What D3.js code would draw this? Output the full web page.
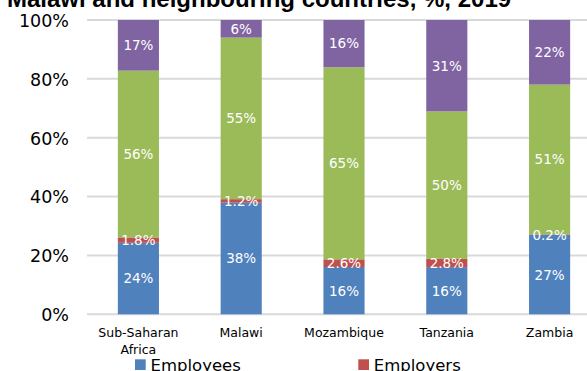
<!DOCTYPE html>
<html>
<head>
<meta charset="utf-8">
<script src="https://cdn.jsdelivr.net/npm/d3@7"></script>
<style>
  html, body { margin: 0; padding: 0; background: #fff; overflow: hidden; }
  svg { display: block; }
</style>
</head>
<body>
<svg id="chart" width="587" height="371"></svg>
<script>
// Employment status shares, Malawi and neighbouring countries, 2019
const categories = ["Sub-Saharan Africa", "Malawi", "Mozambique", "Tanzania", "Zambia"];
const employees   = [24, 38, 16, 16, 27];
const employers   = [1.8, 1.2, 2.6, 2.8, 0.2];
const ownAccount  = [56, 55, 65, 50, 51];
const family      = [17, 6, 16, 31, 22];
const yTicks      = [0, 0.2, 0.4, 0.6, 0.8, 1];
const seriesNames = ["Employees", "Employers", "Own-account workers", "Contributing family workers"];
const colors      = ["#4F81BD", "#C0504D", "#9BBB59", "#8064A2"];
const legendShown = ["Employees", "Employers"];

const keys = ["employees", "employers", "ownAccount", "family"];
const rows = categories.map((c, i) => ({
  category: c,
  employees: employees[i],
  employers: employers[i],
  ownAccount: ownAccount[i],
  family: family[i]
}));

const svg = d3.select("#chart");
const fontFamily = "'DejaVu Sans', sans-serif";

const plotLeft = 87, plotRight = 601, plotTop = 20, plotBottom = 314.3;

const x = d3.scaleBand()
  .domain(categories)
  .range([plotLeft, plotRight])
  .paddingInner(0.6)
  .paddingOuter(0.3);

const y = d3.scaleLinear().domain([0, 1]).range([plotBottom, plotTop]);

// Title
svg.append("text")
  .attr("x", 7)
  .attr("y", 6.5)
  .attr("font-family", "'Liberation Sans', Arial, sans-serif")
  .attr("font-weight", "bold")
  .attr("font-size", 24)
  .attr("fill", "#000")
  .text("Malawi and neighbouring countries, %, 2019");

// Gridlines
svg.append("g")
  .selectAll("line")
  .data(yTicks)
  .join("line")
  .attr("x1", plotLeft)
  .attr("x2", plotRight)
  .attr("y1", d => y(d))
  .attr("y2", d => y(d))
  .attr("stroke", "#D9D9D9")
  .attr("stroke-width", 2);

// Y axis labels
const yAxis = d3.axisLeft(y)
  .tickValues(yTicks)
  .tickFormat(d3.format(".0%"))
  .tickSize(0)
  .tickPadding(0);
const yg = svg.append("g")
  .attr("transform", `translate(69,0)`)
  .call(yAxis);
yg.select(".domain").remove();
yg.selectAll("text")
  .attr("font-family", fontFamily)
  .attr("font-size", 17.5)
  .attr("fill", "#000")
  .attr("dy", "0.36em");

// Stacked bars (100% stacked)
const stack = d3.stack().keys(keys).offset(d3.stackOffsetExpand);
const stacked = stack(rows);

const layers = svg.append("g")
  .selectAll("g")
  .data(stacked)
  .join("g")
  .attr("fill", (d, i) => colors[i]);

layers.selectAll("rect")
  .data(d => d)
  .join("rect")
  .attr("x", d => x(d.data.category))
  .attr("width", x.bandwidth())
  .attr("y", d => y(d[1]))
  .attr("height", d => y(d[0]) - y(d[1]));

// Value labels
const fmt = v => (Number.isInteger(v) ? v.toFixed(0) : v.toFixed(1)) + "%";
const labels = svg.append("g");
stacked.forEach(layer => {
  layer.forEach(d => {
    labels.append("text")
      .attr("x", x(d.data.category) + x.bandwidth() / 2)
      .attr("y", (y(d[0]) + y(d[1])) / 2)
      .attr("dy", "0.36em")
      .attr("text-anchor", "middle")
      .attr("font-family", fontFamily)
      .attr("font-size", 13.5)
      .attr("fill", "#fff")
      .text(fmt(d.data[layer.key]));
  });
});

// X axis labels
const xLabelLines = {
  "Sub-Saharan Africa": ["Sub-Saharan", "Africa"]
};
const xg = svg.append("g");
categories.forEach(c => {
  const lines = xLabelLines[c] || [c];
  const t = xg.append("text")
    .attr("x", x(c) + x.bandwidth() / 2)
    .attr("y", 336.7)
    .attr("text-anchor", "middle")
    .attr("font-family", fontFamily)
    .attr("font-size", 12.5)
    .attr("fill", "#000");
  lines.forEach((ln, i) => {
    t.append("tspan")
      .attr("x", x(c) + x.bandwidth() / 2)
      .attr("dy", i === 0 ? 0 : 17.6)
      .text(ln);
  });
});

// Legend
const legendX = [135, 358.3];
const legend = svg.append("g");
legendShown.forEach((name, i) => {
  const ci = seriesNames.indexOf(name);
  legend.append("rect")
    .attr("x", legendX[i])
    .attr("y", 359.3)
    .attr("width", 10.7)
    .attr("height", 10.7)
    .attr("fill", colors[ci]);
  legend.append("text")
    .attr("x", legendX[i] + 15.5)
    .attr("y", 370.5)
    .attr("font-family", fontFamily)
    .attr("font-size", 16.5)
    .attr("fill", "#000")
    .text(name);
});
</script>
</body>
</html>
